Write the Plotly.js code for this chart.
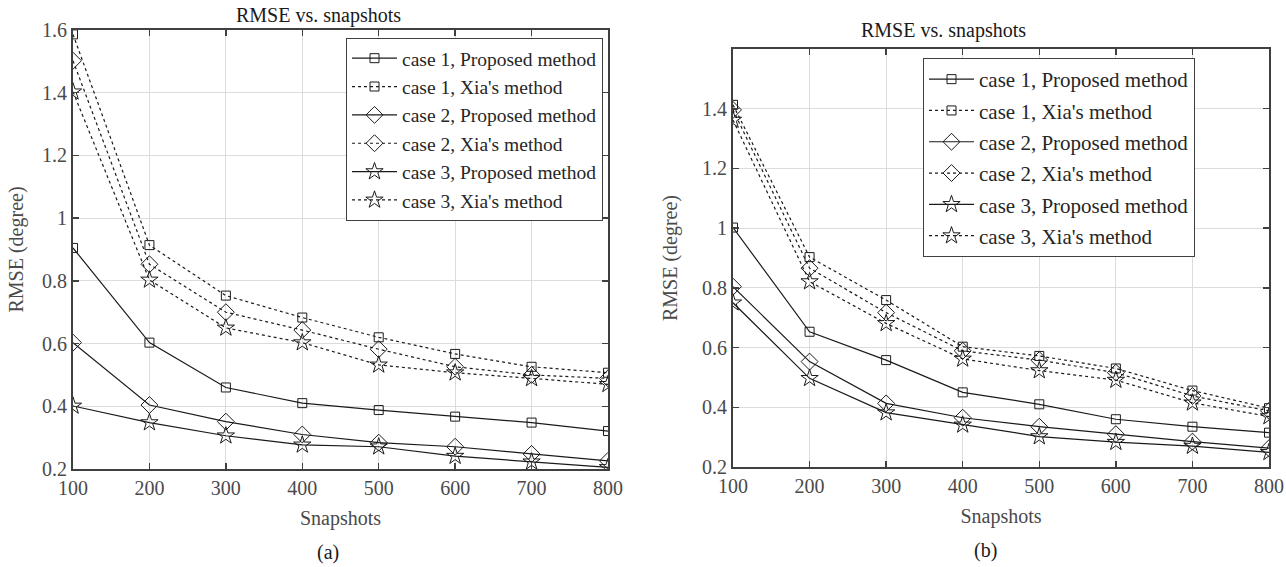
<!DOCTYPE html>
<html>
<head>
<meta charset="utf-8">
<script src="https://cdn.plot.ly/plotly-3.0.1.min.js"></script>
<style>html,body{margin:0;padding:0;background:#fff;}#chart{width:1286px;height:567px;}</style>
</head>
<body>
<div id="chart"></div>
<script>
// ---------- data ----------
const snapshots = [100, 200, 300, 400, 500, 600, 700, 800];
const seriesNames = [
  "case 1, Proposed method", "case 1, Xia's method",
  "case 2, Proposed method", "case 2, Xia's method",
  "case 3, Proposed method", "case 3, Xia's method"
];
// panel (a)
const a_case1_proposed = [0.905, 0.603, 0.460, 0.410, 0.388, 0.367, 0.348, 0.321];
const a_case1_xia      = [1.586, 0.914, 0.753, 0.683, 0.620, 0.567, 0.526, 0.507];
const a_case2_proposed = [0.603, 0.404, 0.351, 0.310, 0.284, 0.271, 0.248, 0.226];
const a_case2_xia      = [1.502, 0.853, 0.700, 0.643, 0.582, 0.526, 0.500, 0.489];
const a_case3_proposed = [0.401, 0.348, 0.306, 0.277, 0.271, 0.241, 0.223, 0.205];
const a_case3_xia      = [1.403, 0.803, 0.650, 0.603, 0.532, 0.507, 0.489, 0.470];
// panel (b)
const b_case1_proposed = [1.002, 0.653, 0.558, 0.450, 0.410, 0.360, 0.335, 0.315];
const b_case1_xia      = [1.413, 0.903, 0.759, 0.603, 0.572, 0.530, 0.456, 0.397];
const b_case2_proposed = [0.804, 0.553, 0.413, 0.365, 0.335, 0.310, 0.285, 0.263];
const b_case2_xia      = [1.396, 0.866, 0.717, 0.589, 0.558, 0.516, 0.438, 0.388];
const b_case3_proposed = [0.750, 0.497, 0.382, 0.341, 0.302, 0.283, 0.270, 0.249];
const b_case3_xia      = [1.362, 0.821, 0.681, 0.562, 0.523, 0.491, 0.415, 0.369];
// ticks
const xTickVals = [100, 200, 300, 400, 500, 600, 700, 800];
const xTickText = ["100", "200", "300", "400", "500", "600", "700", "800"];
const aYTickVals = [0.2, 0.4, 0.6, 0.8, 1.0, 1.2, 1.4, 1.6];
const aYTickText = ["0.2", "0.4", "0.6", "0.8", "1", "1.2", "1.4", "1.6"];
const bYTickVals = [0.2, 0.4, 0.6, 0.8, 1.0, 1.2, 1.4];
const bYTickText = ["0.2", "0.4", "0.6", "0.8", "1", "1.2", "1.4"];
const plotTitle = "RMSE vs. snapshots";
const xTitle = "Snapshots";
const yTitle = "RMSE (degree)";
const captions = ["(a)", "(b)"];

// ---------- styling ----------
const FONT = "Liberation Serif, Times New Roman, serif";
const symbols = ["square-open", "square-open", "diamond-open", "diamond-open", "star-open", "star-open"];
const sizes = [9, 9, 13, 13, 13, 13];
const dashes = ["solid", "dot", "solid", "dot", "solid", "dot"];

const aData = [a_case1_proposed, a_case1_xia, a_case2_proposed, a_case2_xia, a_case3_proposed, a_case3_xia];
const bData = [b_case1_proposed, b_case1_xia, b_case2_proposed, b_case2_xia, b_case3_proposed, b_case3_xia];

const traces = [];
aData.forEach((ys, i) => {
  traces.push({
    x: snapshots, y: ys, name: seriesNames[i], type: "scatter", mode: "lines+markers",
    xaxis: "x", yaxis: "y", legend: "legend",
    line: {color: "#1a1a1a", width: 1.2, dash: dashes[i]},
    marker: {symbol: symbols[i], size: sizes[i], color: "#1a1a1a", line: {width: 1, color: "#1a1a1a"}}
  });
});
bData.forEach((ys, i) => {
  traces.push({
    x: snapshots, y: ys, name: seriesNames[i], type: "scatter", mode: "lines+markers",
    xaxis: "x2", yaxis: "y2", legend: "legend2", legendgroup: "b" + i,
    line: {color: "#1a1a1a", width: 1.2, dash: dashes[i]},
    marker: {symbol: symbols[i], size: sizes[i], color: "#1a1a1a", line: {width: 1, color: "#1a1a1a"}}
  });
});

const W = 1286, H = 567;
function px(x) { return x / W; }
function py(y) { return 1 - y / H; }

const axisCommon = {
  showline: true, mirror: "ticks", linecolor: "#404040", linewidth: 2,
  ticks: "inside", ticklen: 6, tickwidth: 1.5, tickcolor: "#404040",
  showgrid: true, gridcolor: "#dcdcdc", gridwidth: 1, zeroline: false,
  tickfont: {family: FONT, size: 20, color: "#4a4a4a"}
};
const titleFont = {family: FONT, size: 20, color: "#4a4a4a"};

const layout = {
  width: W, height: H,
  margin: {l: 0, r: 0, t: 0, b: 0},
  paper_bgcolor: "#ffffff", plot_bgcolor: "#ffffff",
  showlegend: true,
  font: {family: FONT, color: "#262626"},
  xaxis: Object.assign({}, axisCommon, {
    domain: [px(73), px(608)], range: [100, 800], anchor: "y",
    tickvals: xTickVals, ticktext: xTickText,
    title: {text: xTitle, font: titleFont, standoff: 13}
  }),
  yaxis: Object.assign({}, axisCommon, {
    domain: [py(469), py(30)], range: [0.2, 1.6], anchor: "x",
    tickvals: aYTickVals, ticktext: aYTickText,
    title: {text: yTitle, font: titleFont, standoff: 13}
  }),
  xaxis2: Object.assign({}, axisCommon, {
    domain: [px(733), px(1269)], range: [100, 800], anchor: "y2",
    tickvals: xTickVals, ticktext: xTickText,
    title: {text: xTitle, font: titleFont, standoff: 13}
  }),
  yaxis2: Object.assign({}, axisCommon, {
    domain: [py(467), py(49)], range: [0.2, 1.6], anchor: "x2",
    tickvals: bYTickVals, ticktext: bYTickText,
    title: {text: yTitle, font: titleFont, standoff: 19}
  }),
  legend: {
    x: px(346), y: py(38), xanchor: "left", yanchor: "top",
    bgcolor: "#ffffff", bordercolor: "#404040", borderwidth: 1,
    font: {family: FONT, size: 19.5, color: "#262626"},
    itemwidth: 45, tracegroupgap: 0
  },
  legend2: {
    x: px(923), y: py(58), xanchor: "left", yanchor: "top",
    bgcolor: "#ffffff", bordercolor: "#404040", borderwidth: 1,
    font: {family: FONT, size: 21, color: "#262626"},
    itemwidth: 45, tracegroupgap: 1, traceorder: "grouped",
    entrywidth: 330, entrywidthmode: "pixels"
  },
  annotations: [
    {text: plotTitle, x: px(318), y: py(15), xref: "paper", yref: "paper", showarrow: false,
     xanchor: "center", yanchor: "middle", font: {family: FONT, size: 20, color: "#1a1a1a"}},
    {text: plotTitle, x: px(943), y: py(30), xref: "paper", yref: "paper", showarrow: false,
     xanchor: "center", yanchor: "middle", font: {family: FONT, size: 20, color: "#1a1a1a"}},
    {text: captions[0], x: px(328), y: py(552), xref: "paper", yref: "paper", showarrow: false,
     xanchor: "center", yanchor: "middle", font: {family: FONT, size: 20, color: "#1a1a1a"}},
    {text: captions[1], x: px(985), y: py(550), xref: "paper", yref: "paper", showarrow: false,
     xanchor: "center", yanchor: "middle", font: {family: FONT, size: 20, color: "#1a1a1a"}}
  ]
};

Plotly.newPlot("chart", traces, layout, {staticPlot: true, displayModeBar: false});
</script>
</body>
</html>
